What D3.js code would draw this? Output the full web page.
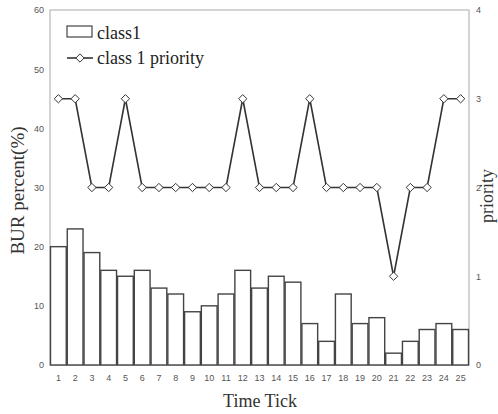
<!DOCTYPE html>
<html>
<head>
<meta charset="utf-8">
<script src="https://cdn.jsdelivr.net/npm/d3@7"></script>
<style>
  body { margin: 0; background: #fff; }
  svg { display: block; }
</style>
</head>
<body>
<svg id="chart" width="498" height="414"></svg>
<script>
const ticks = d3.range(1, 26);
const burPercent = [20, 23, 19, 16, 15, 16, 13, 12, 9, 10, 12, 16, 13, 15, 14, 7, 4, 12, 7, 8, 2, 4, 6, 7, 6];
const priority = [3, 3, 2, 2, 3, 2, 2, 2, 2, 2, 2, 3, 2, 2, 2, 3, 2, 2, 2, 2, 1, 2, 2, 3, 3];
const leftTicks = [0, 10, 20, 30, 40, 50, 60];
const rightTicks = [0, 1, 2, 3, 4];

const width = 498, height = 414;
const margin = { top: 10, right: 29, bottom: 49, left: 50 };
const serif = '"Liberation Serif", "Times New Roman", serif';
const sans = '"Liberation Sans", Arial, sans-serif';

const svg = d3.select('#chart');

const x = d3.scaleBand()
    .domain(ticks)
    .range([margin.left, width - margin.right])
    .paddingInner(0.06)
    .paddingOuter(0.03);
const y = d3.scaleLinear().domain([0, 60]).range([height - margin.bottom, margin.top]);
const y2 = d3.scaleLinear().domain([0, 4]).range([height - margin.bottom, margin.top]);

// frame
svg.append('rect')
    .attr('x', margin.left).attr('y', margin.top)
    .attr('width', width - margin.left - margin.right)
    .attr('height', height - margin.top - margin.bottom)
    .attr('fill', 'none').attr('stroke', '#aaa').attr('stroke-width', 1);

// axes (labels only)
const leftAxis = svg.append('g')
    .attr('transform', `translate(${margin.left},0)`)
    .call(d3.axisLeft(y).tickValues(leftTicks).tickSize(0).tickPadding(6));
const rightAxis = svg.append('g')
    .attr('transform', `translate(${width - margin.right},0)`)
    .call(d3.axisRight(y2).tickValues(rightTicks).tickFormat(d3.format('d')).tickSize(0).tickPadding(7));
const bottomAxis = svg.append('g')
    .attr('transform', `translate(0,${height - margin.bottom})`)
    .call(d3.axisBottom(x).tickSize(0).tickPadding(10));
[leftAxis, rightAxis, bottomAxis].forEach(g => {
    g.select('.domain').remove();
    g.selectAll('text').attr('font-family', sans).attr('font-size', 9).attr('fill', '#555');
});

// bars
svg.append('g').selectAll('rect')
    .data(burPercent)
    .join('rect')
    .attr('x', (d, i) => x(ticks[i]))
    .attr('y', d => y(d))
    .attr('width', x.bandwidth())
    .attr('height', d => y(0) - y(d))
    .attr('fill', '#fff')
    .attr('stroke', '#444')
    .attr('stroke-width', 1.4);

// priority line
const line = d3.line()
    .x((d, i) => x(ticks[i]) + x.bandwidth() / 2)
    .y(d => y2(d));
svg.append('path')
    .datum(priority)
    .attr('d', line)
    .attr('fill', 'none')
    .attr('stroke', '#333')
    .attr('stroke-width', 1.6);

const diamond = d3.symbol().type(d3.symbolDiamond2).size(44);
svg.append('g').selectAll('path')
    .data(priority)
    .join('path')
    .attr('transform', (d, i) => `translate(${x(ticks[i]) + x.bandwidth() / 2},${y2(d)})`)
    .attr('d', diamond)
    .attr('fill', '#fff')
    .attr('stroke', '#333')
    .attr('stroke-width', 1);

// axis titles
svg.append('text')
    .attr('transform', `translate(24,${(margin.top + height - margin.bottom) / 2 + 3}) rotate(-90)`)
    .attr('text-anchor', 'middle')
    .attr('font-family', serif).attr('font-size', 19).attr('fill', '#333')
    .text('BUR percent(%)');
svg.append('text')
    .attr('transform', `translate(493,196) rotate(-90)`)
    .attr('text-anchor', 'middle')
    .attr('font-family', serif).attr('font-size', 18).attr('fill', '#333')
    .text('priority');
svg.append('text')
    .attr('x', 260).attr('y', 407)
    .attr('text-anchor', 'middle')
    .attr('font-family', serif).attr('font-size', 18).attr('fill', '#333')
    .text('Time Tick');

// legend
const legend = svg.append('g');
legend.append('rect')
    .attr('x', 67).attr('y', 26).attr('width', 25).attr('height', 11)
    .attr('fill', '#fff').attr('stroke', '#444').attr('stroke-width', 1.2);
legend.append('text')
    .attr('x', 97).attr('y', 39)
    .attr('font-family', serif).attr('font-size', 18).attr('fill', '#222')
    .text('class1');
legend.append('line')
    .attr('x1', 67).attr('x2', 93).attr('y1', 58).attr('y2', 58)
    .attr('stroke', '#333').attr('stroke-width', 1.6);
legend.append('path')
    .attr('transform', 'translate(80,58)')
    .attr('d', diamond)
    .attr('fill', '#fff').attr('stroke', '#333').attr('stroke-width', 1);
legend.append('text')
    .attr('x', 97).attr('y', 64)
    .attr('font-family', serif).attr('font-size', 18).attr('fill', '#222')
    .text('class 1 priority');
</script>
</body>
</html>
